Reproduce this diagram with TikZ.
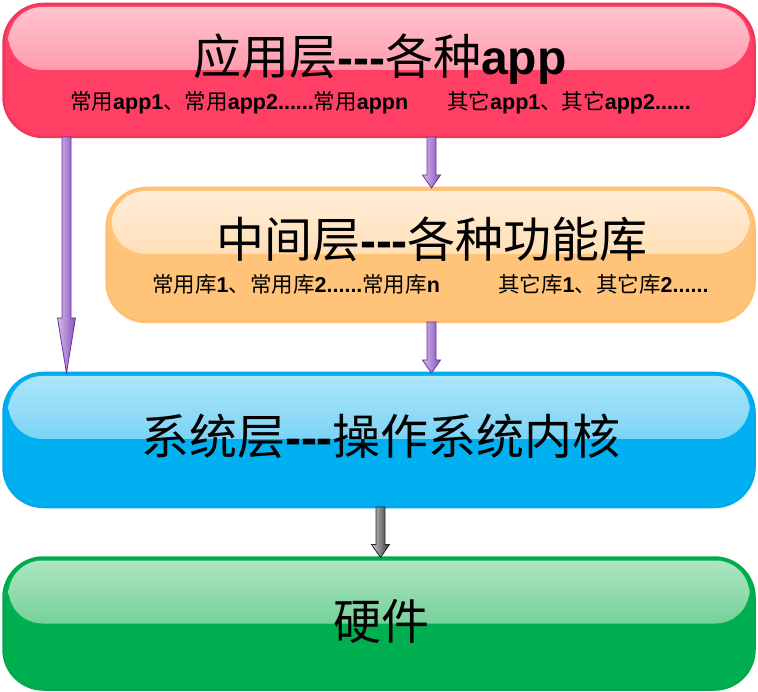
\documentclass[tikz,border=0pt]{standalone}
\usepackage{fontspec}
\setmainfont{Liberation Sans}
\newfontfamily\cjk{Noto Sans CJK SC}
\usetikzlibrary{calc}
\definecolor{redB}{RGB}{255,64,100}
\definecolor{redD}{RGB}{240,54,90}
\definecolor{redT}{RGB}{255,198,208}
\definecolor{redM}{RGB}{255,112,138}
\definecolor{orB}{RGB}{255,196,122}
\definecolor{orD}{RGB}{255,190,112}
\definecolor{orT}{RGB}{255,238,218}
\definecolor{orM}{RGB}{255,208,148}
\definecolor{blB}{RGB}{0,176,240}
\definecolor{blD}{RGB}{0,170,234}
\definecolor{blT}{RGB}{176,230,250}
\definecolor{blM}{RGB}{70,192,242}
\definecolor{grB}{RGB}{0,176,80}
\definecolor{grD}{RGB}{0,170,76}
\definecolor{grT}{RGB}{176,230,196}
\definecolor{grM}{RGB}{60,188,110}
\definecolor{puL}{RGB}{210,188,235}
\definecolor{puR}{RGB}{135,80,185}
\definecolor{puE}{RGB}{112,48,160}
\definecolor{gyL}{RGB}{200,200,200}
\definecolor{gyR}{RGB}{55,55,55}
\definecolor{gyE}{RGB}{40,40,40}
\newcommand{\mydash}{\textbf{-\kern0pt-\kern0pt-}}
\newcommand{\blockarr}[6]{%
  \path[#6] let \p1=(#1), \p2=(#2) in
    (\x1-#3,\y1) -- (\x1+#3,\y1) -- (\x1+#3,\y2+#5) -- (\x1+#4,\y2+#5)
    -- (\x1,\y2) -- (\x1-#4,\y2+#5) -- (\x1-#3,\y2+#5) -- cycle;}
\tikzset{
  layer/.style n args={4}{draw=#2, fill=#1, line width=2.5pt,
    rounded corners=40pt, inner sep=0pt, outer sep=0pt,
    path picture={\shade[top color=#3, bottom color=#4, rounded corners=34pt]
      ([xshift=5pt,yshift=-3pt]path picture bounding box.north west) rectangle
      ([xshift=-5pt,yshift=-66pt]path picture bounding box.north east);}},
  ttl/.style={font=\fontsize{48}{52}\selectfont, inner sep=0pt, anchor=base},
  subt/.style={font=\fontsize{21.5}{24}\selectfont, inner sep=0pt, anchor=base west},
  purparrow/.style={draw=puE, line width=0.8pt, left color=puL, right color=puR},
  grayarrow/.style={draw=gyE, line width=0.8pt, left color=gyL, right color=gyR},
}
\begin{document}
\begin{tikzpicture}[x=1pt,y=-1pt]
\useasboundingbox (0,0) rectangle (758,692);
% layers
\node[layer={redB}{redD}{redT}{redM}, minimum width=751pt, minimum height=133pt] (app) at (379,70.5) {};
\node[layer={orB}{orD}{orT}{orM}, minimum width=648pt, minimum height=134pt] (mid) at (430.5,255) {};
\node[layer={blB}{blD}{blT}{blM}, minimum width=751pt, minimum height=134pt] (sys) at (379,440) {};
\node[layer={grB}{grD}{grT}{grM}, minimum width=751pt, minimum height=132pt] (hw) at (379,623.5) {};
% texts
\node[ttl] (appT) at (380,75) {{\cjk 应用层}\mydash{\cjk 各种}\textbf{app}};
\node[subt] (appS1) at (70,109.5) {{\cjk 常用}\textbf{app1}{\cjk 、常用}\textbf{app2......}{\cjk 常用}\textbf{appn}};
\node[subt] (appS2) at (447,109.5) {{\cjk 其它}\textbf{app1}{\cjk 、其它}\textbf{app2......}};
\node[ttl] (midT) at (432,258) {{\cjk 中间层}\mydash{\cjk 各种功能库}};
\node[subt] (midS1) at (152,293) {{\cjk 常用库}\textbf{1}{\cjk 、常用库}\textbf{2......}{\cjk 常用库}\textbf{n}};
\node[subt] (midS2) at (498,293) {{\cjk 其它库}\textbf{1}{\cjk 、其它库}\textbf{2......}};
\node[ttl] (sysT) at (381,455) {{\cjk 系统层}\mydash{\cjk 操作系统内核}};
\node[ttl] (hwT) at (381,639) {{\cjk 硬件}};
% arrows
\coordinate (xL) at (66.5,0);
\coordinate (xM) at (431.5,0);
\coordinate (xB) at (380.5,0);
\blockarr{app.south -| xL}{sys.north -| xL}{4.5pt}{9pt}{55pt}{purparrow}
\blockarr{app.south -| xM}{mid.north -| xM}{4.5pt}{9pt}{13pt}{purparrow}
\blockarr{mid.south -| xM}{sys.north -| xM}{4.5pt}{9pt}{13pt}{purparrow}
\blockarr{sys.south -| xB}{hw.north -| xB}{4.5pt}{9pt}{13pt}{grayarrow}
\end{tikzpicture}
\end{document}
